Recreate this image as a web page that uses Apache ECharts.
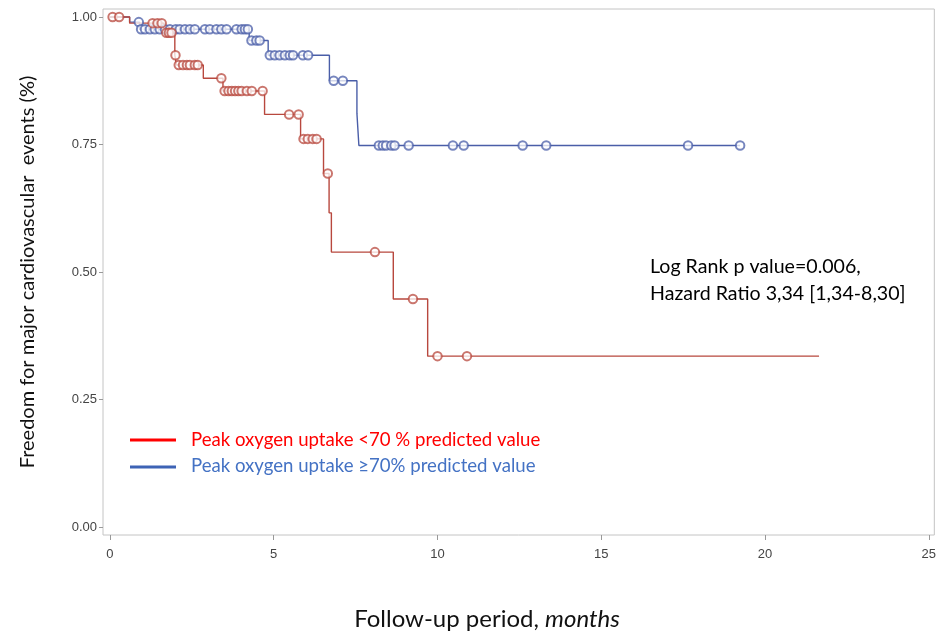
<!DOCTYPE html>
<html><head><meta charset="utf-8">
<script src="https://cdn.jsdelivr.net/npm/echarts@6/dist/echarts.min.js"></script>
<style>html,body{margin:0;padding:0;background:#fff}#c{width:939px;height:631px}</style>
</head><body><div id="c"></div>
<script>
// Kaplan-Meier steps: time (months) and survival after the drop
const redStepTimes = [0.6, 1.65, 1.98, 2.03, 2.85, 3.45, 4.72, 5.82, 6.52, 6.69, 6.76, 8.65, 9.70];
const redStepSurv  = [0.988, 0.969, 0.925, 0.906, 0.880, 0.855, 0.809, 0.761, 0.693, 0.616, 0.539, 0.447, 0.335];
const redEndTime = 21.65;
const redCensor = [0.08, 0.28, 1.30, 1.45, 1.58, 1.72, 1.80, 1.88, 2.00, 2.10, 2.23, 2.35, 2.44, 2.59, 2.68,
  3.40, 3.50, 3.62, 3.72, 3.82, 3.92, 4.02, 4.18, 4.33, 4.66, 5.47, 5.76, 5.91, 6.04, 6.19, 6.31, 6.65,
  8.09, 9.25, 10.0, 10.9];

const blueStepTimes = [0.6, 0.9, 4.25, 4.83, 6.70, 7.54, 7.60];
const blueStepSurv  = [0.990, 0.976, 0.954, 0.925, 0.875, 0.811, 0.748];
const blueEndTime = 19.24;
const blueCensor = [0.88, 0.95, 1.07, 1.22, 1.37, 1.52, 1.68, 1.83, 2.01, 2.13, 2.29, 2.44, 2.59, 2.90, 3.05,
  3.25, 3.40, 3.56, 3.86, 4.02, 4.12, 4.21, 4.32, 4.47, 4.57, 4.88, 5.03, 5.18, 5.34, 5.49, 5.59, 5.89, 6.05,
  6.83, 7.11, 8.21, 8.33, 8.43, 8.59, 8.69, 9.12, 10.47, 10.80, 12.60, 13.32, 17.65, 19.24];

const xTicks = [0, 5, 10, 15, 20, 25];
const yTicks = [0, 0.25, 0.5, 0.75, 1.0];

const redName = 'Peak oxygen uptake <70 % predicted value';
const blueName = 'Peak oxygen uptake \u226570% predicted value';

function curve(times, surv, end) {
  const d = [[0, 1]];
  times.forEach((t, i) => d.push([t, surv[i]]));
  d.push([end, surv[surv.length - 1]]);
  return d;
}
function survAt(times, surv, t) {
  let s = 1;
  for (let i = 0; i < times.length; i++) if (times[i] <= t) s = surv[i];
  return s;
}
function censor(ct, times, surv) { return ct.map(t => [t, survAt(times, surv, t)]); }

const RED = '#b8483e', BLUE = '#4a5ea8';
const chart = echarts.init(document.getElementById('c'));
chart.setOption({
  animation: false,
  backgroundColor: '#fff',
  grid: { left: 103, top: 9, right: 2, bottom: 96, show: true, borderColor: '#c4c4c4', borderWidth: 1 },
  xAxis: {
    type: 'value', min: -0.213, max: 25.17, position: 'bottom',
    axisLine: { show: false, onZero: false }, splitLine: { show: false },
    axisTick: { show: true, inside: false, customValues: xTicks, length: 5, lineStyle: { color: '#999' } },
    axisLabel: { customValues: xTicks, color: '#444', fontFamily: 'Liberation Sans Narrow, Arial', fontSize: 13, margin: 13 }
  },
  yAxis: {
    type: 'value', min: -0.0157, max: 1.0157, position: 'left',
    axisLine: { show: false, onZero: false }, splitLine: { show: false },
    axisTick: { show: true, inside: false, customValues: yTicks, length: 4, lineStyle: { color: '#999' } },
    axisLabel: { customValues: yTicks, color: '#444', fontFamily: 'Liberation Sans Narrow, Arial', fontSize: 13, margin: 6,
      formatter: v => v.toFixed(2) }
  },
  series: [
    { name: blueName, type: 'line', step: 'end', data: curve(blueStepTimes, blueStepSurv, blueEndTime),
      showSymbol: false, lineStyle: { color: BLUE, width: 1.4 }, itemStyle: { color: BLUE }, z: 2 },
    { name: redName, type: 'line', step: 'end', data: curve(redStepTimes, redStepSurv, redEndTime),
      showSymbol: false, lineStyle: { color: RED, width: 1.4 }, itemStyle: { color: RED }, z: 3 },
    { type: 'scatter', data: censor(blueCensor, blueStepTimes, blueStepSurv), symbol: 'emptyCircle', symbolSize: 8.5,
      itemStyle: { color: BLUE, borderWidth: 1.2, opacity: 0.75 }, z: 4 },
    { type: 'scatter', data: censor(redCensor, redStepTimes, redStepSurv), symbol: 'emptyCircle', symbolSize: 8.5,
      itemStyle: { color: RED, borderWidth: 1.2, opacity: 0.75 }, z: 5 }
  ],
  graphic: [
    { type: 'text', x: 28, y: 272, rotation: Math.PI / 2,
      style: { text: 'Freedom for major cardiovascular  events (%)', font: '20px Lato', fill: '#111',
        textAlign: 'center', textVerticalAlign: 'middle' } },
    { type: 'text', x: 487, y: 619,
      style: { rich: { n: { font: '24px Lato', fill: '#111' }, i: { font: 'italic 24px Lato', fill: '#111' } },
        text: '{n|Follow-up period, }{i|months}', textAlign: 'center', textVerticalAlign: 'middle' } },
    { type: 'line', shape: { x1: 130, y1: 440, x2: 176, y2: 440 }, style: { stroke: '#ff0000', lineWidth: 3 } },
    { type: 'line', shape: { x1: 130, y1: 467, x2: 176, y2: 467 }, style: { stroke: '#3d63b5', lineWidth: 3 } },
    { type: 'text', x: 191, y: 440, style: { text: redName, font: '18.6px Lato', fill: '#ff0000', textVerticalAlign: 'middle' } },
    { type: 'text', x: 191, y: 466, style: { text: blueName, font: '18.6px Lato', fill: '#4472c4', textVerticalAlign: 'middle' } },
    { type: 'text', x: 650, y: 267, style: { text: 'Log Rank p value=0.006,', font: '19.6px Lato', fill: '#000', textVerticalAlign: 'middle' } },
    { type: 'text', x: 650, y: 294, style: { text: 'Hazard Ratio 3,34 [1,34-8,30]', font: '19.6px Lato', fill: '#000', textVerticalAlign: 'middle' } }
  ]
});
</script></body></html>
